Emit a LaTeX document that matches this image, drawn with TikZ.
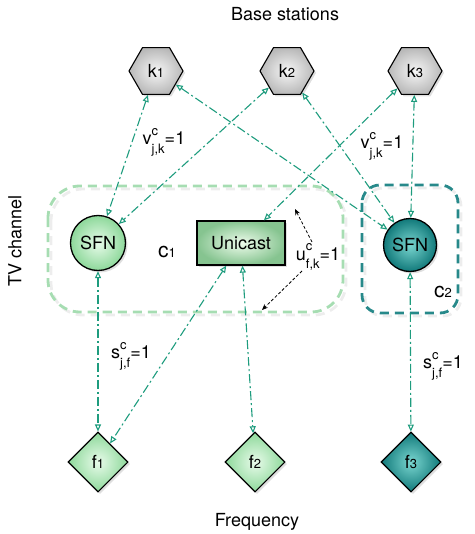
\documentclass[tikz,border=0pt]{standalone}
\usepackage{fontspec}
\setmainfont{TeX Gyre Heros}
\usetikzlibrary{arrows.meta,shapes.geometric,shadows}
\definecolor{linkc}{HTML}{1E9C7E}
\definecolor{cgreen}{HTML}{A6DDB2}
\definecolor{cteal}{HTML}{27898A}
\definecolor{lgin}{HTML}{E8FBEA}
\definecolor{lgout}{HTML}{8DD89A}
\definecolor{ubin}{HTML}{EEFCEC}
\definecolor{ubout}{HTML}{86C490}
\definecolor{dtin}{HTML}{7AD6D0}
\definecolor{dtout}{HTML}{11797A}
\definecolor{hxin}{HTML}{F6F6F6}
\definecolor{hxout}{HTML}{B9B9B9}
\newcommand\myfs[1]{\fontsize{#1}{#1}\selectfont}
\newcommand\supsub[3]{#1\rlap{\raisebox{0.55em}{\myfs{13}#2}}\raisebox{-0.45em}{\myfs{13}#3}=1}
\begin{document}
\begin{tikzpicture}[x=1pt,y=-1pt,
  every node/.style={font=\myfs{18}},
  shad/.style={drop shadow={opacity=0.25,shadow xshift=2pt,shadow yshift=-2pt}},
  hexnode/.style={regular polygon,regular polygon sides=6,minimum size=54pt,inner sep=0pt,
    draw=black,line width=1.1pt,shading=radial,inner color=hxin,outer color=hxout,shad},
  sfnlight/.style={circle,minimum size=55pt,inner sep=0pt,draw=black,line width=1.3pt,
    shading=radial,inner color=lgin,outer color=lgout,shad},
  sfndark/.style={circle,minimum size=53pt,inner sep=0pt,draw=black,line width=1.3pt,
    shading=radial,inner color=dtin,outer color=dtout,shad},
  fdlight/.style={diamond,aspect=1,minimum width=60pt,minimum height=60pt,inner sep=0pt,
    draw=black,line width=1.1pt,shading=radial,inner color=lgin,outer color=lgout,shad},
  fddark/.style={diamond,aspect=1,minimum width=60pt,minimum height=60pt,inner sep=0pt,
    draw=black,line width=1.1pt,shading=radial,inner color=dtin,outer color=dtout,shad},
  unibox/.style={rectangle,minimum width=88pt,minimum height=44pt,inner sep=0pt,draw=black,
    line width=1.3pt,shading=radial,inner color=ubin,outer color=ubout,shad},
  link/.style={draw=linkc,line width=1.1pt,dash pattern=on 9pt off 3pt on 2pt off 3pt,
    {Triangle[open,length=7pt,width=6pt]}-{Triangle[open,length=7pt,width=6pt]}},
  clus/.style={line width=2.8pt,dash pattern=on 9pt off 6pt},
  uarrow/.style={draw=black,line width=0.8pt,dash pattern=on 3pt off 2pt,-{Stealth[length=6pt,width=5pt]}},
  lab/.style={font=\myfs{18}}
]
\useasboundingbox (0,0) rectangle (474,534);

% cluster boxes with soft shadow
\draw[clus,draw=black,opacity=0.07,rounded corners=32pt] (51,189) rectangle (346,315);
\draw[clus,draw=cgreen,rounded corners=32pt] (48,186) rectangle (343,312);
\draw[clus,draw=black,opacity=0.07,rounded corners=18pt] (365,188) rectangle (461,316);
\draw[clus,draw=cteal,rounded corners=18pt] (362,185) rectangle (458,313);

% titles
\node (bs) at (285,14) {Base stations};
\node (fq) at (257,522) {Frequency};
\node[rotate=90] (tv) at (15,241) {TV channel};

% base stations
\node[hexnode] (k1) at (156,71) {k{\myfs{13}1}};
\node[hexnode] (k2) at (287,71) {k{\myfs{13}2}};
\node[hexnode] (k3) at (415,71) {k{\myfs{13}3}};

% channel nodes
\node[sfnlight] (s1) at (98,243) {SFN};
\node[unibox] (uni) at (241,243) {Unicast};
\node[sfndark] (s2) at (410,245) {SFN};

% frequencies
\node[fdlight] (f1) at (98,462) {f{\myfs{13}1}};
\node[fdlight] (f2) at (255,462) {f{\myfs{13}2}};
\node[fddark] (f3) at (411,462) {f{\myfs{13}3}};

% cluster labels
\node (c1) at (167,252) {\myfs{21}c{\myfs{13}1}};
\node (c2) at (443,292) {\myfs{21}c{\myfs{13}2}};

% links
\draw[link] (k1) -- (s1);
\draw[link] (k2) -- (s1);
\draw[link] (k1) -- (s2);
\draw[link] (k2) -- (s2);
\draw[link] (k3) -- (uni);
\draw[link] (k3) -- (s2);
\draw[link] (s1) -- (f1);
\draw[link] (uni) -- (f1);
\draw[link] (uni) -- (f2);
\draw[link] (s2) -- (f3);

% labels
\node[lab] (v1) at (164,142) {\supsub{v}{c}{j,k}};
\node[lab] (v2) at (382,146) {\supsub{v}{c}{j,k}};
\node[lab] (s1l) at (131,356) {\supsub{s}{c}{j,f}};
\node[lab] (s2l) at (443,366) {\supsub{s}{c}{j,f}};
\node[lab] (ul) at (318,257) {\supsub{u}{c}{f,k}};

% u arrows
\coordinate (ua1) at (312,242);
\coordinate (ub1) at (295,209);
\coordinate (ua2) at (302,271);
\coordinate (ub2) at (262,310);
\draw[uarrow] (ua1) -- (ub1);
\draw[uarrow] (ua2) -- (ub2);
\end{tikzpicture}
\end{document}
